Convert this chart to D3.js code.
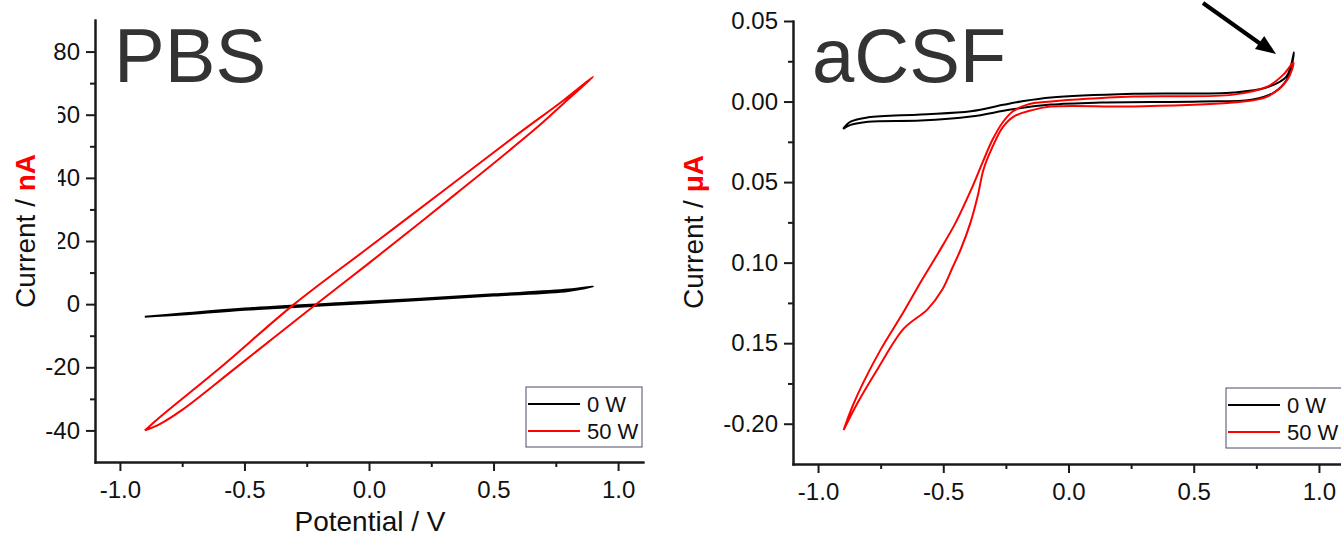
<!DOCTYPE html>
<html>
<head>
<meta charset="utf-8">
<script src="https://cdn.jsdelivr.net/npm/d3@7"></script>
<style>
  body { margin: 0; background: #fff; }
  text { font-family: Arial, "Liberation Sans", sans-serif; }
  .axis path, .axis line { stroke: #1a1a1a; stroke-width: 2; }
  .axis text { font-size: 24px; fill: #111; }
  .trace { fill: none; stroke-width: 2; stroke-linejoin: round; }
</style>
</head>
<body>
<div id="chart"></div>
<script>
// --> DATA (potential in V, current in nA for PBS, uA for aCSF)

// each loop: forward branch then back to the start point
var pbs0W = [[-0.9,-4.0],[-0.75,-3.0],[-0.5,-1.4],[0,0.8],[0.5,3.1],[0.8,4.6],[0.9,5.6],
             [0.8,4.2],[0.5,2.7],[0,0.4],[-0.5,-1.8],[-0.75,-3.3],[-0.9,-4.0]];
var pbs50W = [[-0.9,-40],[-0.84,-35.8],[-0.6,-20.3],[-0.3,0],[0,18],[0.3,36],[0.6,54],[0.78,64.5],[0.9,72],
              [0.78,63.5],[0.675,56],[0.35,35],[0,13],[-0.22,-0.5],[-0.54,-20.5],[-0.75,-33.5],[-0.84,-38],[-0.9,-40]];

var csf0W = [[-0.9,-0.017],[-0.87,-0.0125],[-0.8,-0.0098],[-0.59,-0.008],[-0.39,-0.006],[-0.26,-0.002],[-0.19,0.0],
             [-0.07,0.0025],[0.26,0.0048],[0.66,0.0056],[0.79,0.0087],[0.87,0.0155],[0.9,0.0304],
             [0.875,0.0145],[0.82,0.0056],[0.73,0.0012],[0.53,0.0],[0.13,-0.0006],[-0.072,-0.0019],[-0.23,-0.005],
             [-0.39,-0.0093],[-0.59,-0.0118],[-0.8,-0.0125],[-0.87,-0.0145],[-0.9,-0.017]];
var csf50W = [[-0.898,-0.204],[-0.862,-0.189],[-0.818,-0.174],[-0.75,-0.154],[-0.66,-0.131],[-0.59,-0.112],
              [-0.52,-0.094],[-0.45,-0.075],[-0.391,-0.0555],[-0.343,-0.0378],[-0.303,-0.0236],[-0.263,-0.013],
              [-0.223,-0.0062],[-0.164,-0.0019],[-0.07,0.0],[0.26,0.0031],[0.658,0.0043],[0.794,0.0093],[0.858,0.0167],[0.898,0.0242],
              [0.874,0.0136],[0.794,0.0031],[0.658,-0.0006],[0.26,-0.003],[-0.072,-0.0031],[-0.152,-0.0056],[-0.219,-0.0093],
              [-0.263,-0.016],[-0.303,-0.028],[-0.339,-0.042],[-0.363,-0.059],[-0.391,-0.075],[-0.431,-0.092],
              [-0.463,-0.103],[-0.505,-0.117],[-0.563,-0.129],[-0.658,-0.141],[-0.762,-0.166],[-0.842,-0.187],[-0.898,-0.204]];

var seriesNames = ["0 W", "50 W"];
var seriesColors = ["#000000", "#ff0000"];

var xTicks = [-1.0, -0.5, 0.0, 0.5, 1.0];
var xMinor = [-0.75, -0.25, 0.25, 0.75];
var pbsTicks = [-40, -20, 0, 20, 40, 60, 80];
var pbsMinor = [-30, -10, 10, 30, 50, 70];
var csfTicks = [-0.2, -0.15, -0.1, -0.05, 0.0, 0.05];
var csfMinor = [-0.175, -0.125, -0.075, -0.025, 0.025];

// --> SVG

var svg = d3.select("#chart").append("svg")
    .attr("width", 1341)
    .attr("height", 538);

var line = d3.line().curve(d3.curveCatmullRom.alpha(0.5));

function drawPanel(opt) {
    var x = d3.scaleLinear().domain([-1.1, 1.1]).range(opt.xRange);
    var y = d3.scaleLinear().domain(opt.yDomain).range(opt.yRange);
    var g = svg.append("g");

    // traces
    opt.series.forEach(function(s, i) {
        g.append("path")
            .attr("class", "trace")
            .attr("stroke", seriesColors[i])
            .attr("d", line(s.map(function(d) { return [x(d[0]), y(d[1])]; })));
    });

    // axes
    g.append("g").attr("class", "axis")
        .attr("transform", "translate(0," + opt.yRange[0] + ")")
        .call(d3.axisBottom(x).tickValues(xMinor).tickSize(5).tickFormat("").tickSizeOuter(0));
    g.append("g").attr("class", "axis")
        .attr("transform", "translate(0," + opt.yRange[0] + ")")
        .call(d3.axisBottom(x).tickValues(xTicks).tickSize(9).tickPadding(10).tickSizeOuter(0)
            .tickFormat(function(d) { return d.toFixed(1); }));
    g.append("g").attr("class", "axis")
        .attr("transform", "translate(" + opt.xRange[0] + ",0)")
        .call(d3.axisLeft(y).tickValues(opt.minor).tickSize(5).tickFormat("").tickSizeOuter(0));
    g.append("g").attr("class", "axis")
        .attr("transform", "translate(" + opt.xRange[0] + ",0)")
        .call(d3.axisLeft(y).tickValues(opt.ticks).tickSize(9).tickPadding(6).tickSizeOuter(0)
            .tickFormat(opt.fmt));
    g.selectAll(".axis .domain").attr("stroke-linecap", "square");

    // y label sits in a white box
    g.append("rect")
        .attr("x", opt.box[0]).attr("y", opt.box[1])
        .attr("width", opt.box[2]).attr("height", opt.box[3])
        .attr("fill", "#fff");
    var yl = g.append("text")
        .attr("transform", "translate(" + opt.yLabelPos[0] + "," + opt.yLabelPos[1] + ") rotate(-90)")
        .attr("text-anchor", "middle")
        .style("font-size", "28px");
    yl.append("tspan").attr("fill", "#111").text("Current / ");
    yl.append("tspan").attr("fill", "#ff0000").attr("font-weight", "bold").text(opt.unit);

    // title
    g.append("text")
        .attr("x", opt.titlePos[0]).attr("y", opt.titlePos[1])
        .attr("fill", "#333")
        .style("font-size", "76px")
        .text(opt.title);

    // legend
    var lg = g.append("g").attr("transform", "translate(" + opt.legendPos[0] + "," + opt.legendPos[1] + ")");
    lg.append("rect")
        .attr("width", 116).attr("height", 60)
        .attr("fill", "#fff").attr("stroke", "#4a4a66").attr("stroke-width", 1);
    seriesNames.forEach(function(n, i) {
        lg.append("line")
            .attr("x1", 2).attr("x2", 54)
            .attr("y1", 17 + i * 27).attr("y2", 17 + i * 27)
            .attr("stroke", seriesColors[i]).attr("stroke-width", 2);
        lg.append("text")
            .attr("x", 61).attr("y", 25 + i * 27)
            .style("font-size", "22px").attr("fill", "#111")
            .text(n);
    });
    return g;
}

drawPanel({
    xRange: [95, 643], yRange: [462, 20], yDomain: [-50, 90],
    ticks: pbsTicks, minor: pbsMinor, fmt: function(d) { return d.toFixed(0); },
    series: [pbs0W, pbs50W], unit: "nA", title: "PBS",
    box: [0, 95, 58, 235], yLabelPos: [35, 231], titlePos: [114, 82], legendPos: [526, 387]
});

var right = drawPanel({
    xRange: [793, 1344], yRange: [464, 21], yDomain: [-0.225, 0.05],
    ticks: csfTicks, minor: csfMinor, fmt: function(d) { return d.toFixed(2); },
    series: [csf0W, csf50W], unit: "μA", title: "aCSF",
    box: [660, 140, 72, 225], yLabelPos: [703, 232], titlePos: [812, 82], legendPos: [1226, 388]
});

// x label only on the left panel
svg.append("text")
    .attr("x", 370).attr("y", 531)
    .attr("text-anchor", "middle")
    .style("font-size", "28px").attr("fill", "#111")
    .text("Potential / V");

// arrow pointing at the anodic end
right.append("line")
    .attr("x1", 1203).attr("y1", 3)
    .attr("x2", 1262).attr("y2", 45)
    .attr("stroke", "#000").attr("stroke-width", 4);
right.append("path")
    .attr("d", "M0,0L-20,-8L-20,8Z")
    .attr("fill", "#000")
    .attr("transform", "translate(1276,54) rotate(" + (Math.atan2(51, 73) * 180 / Math.PI) + ")");
</script>
</body>
</html>
